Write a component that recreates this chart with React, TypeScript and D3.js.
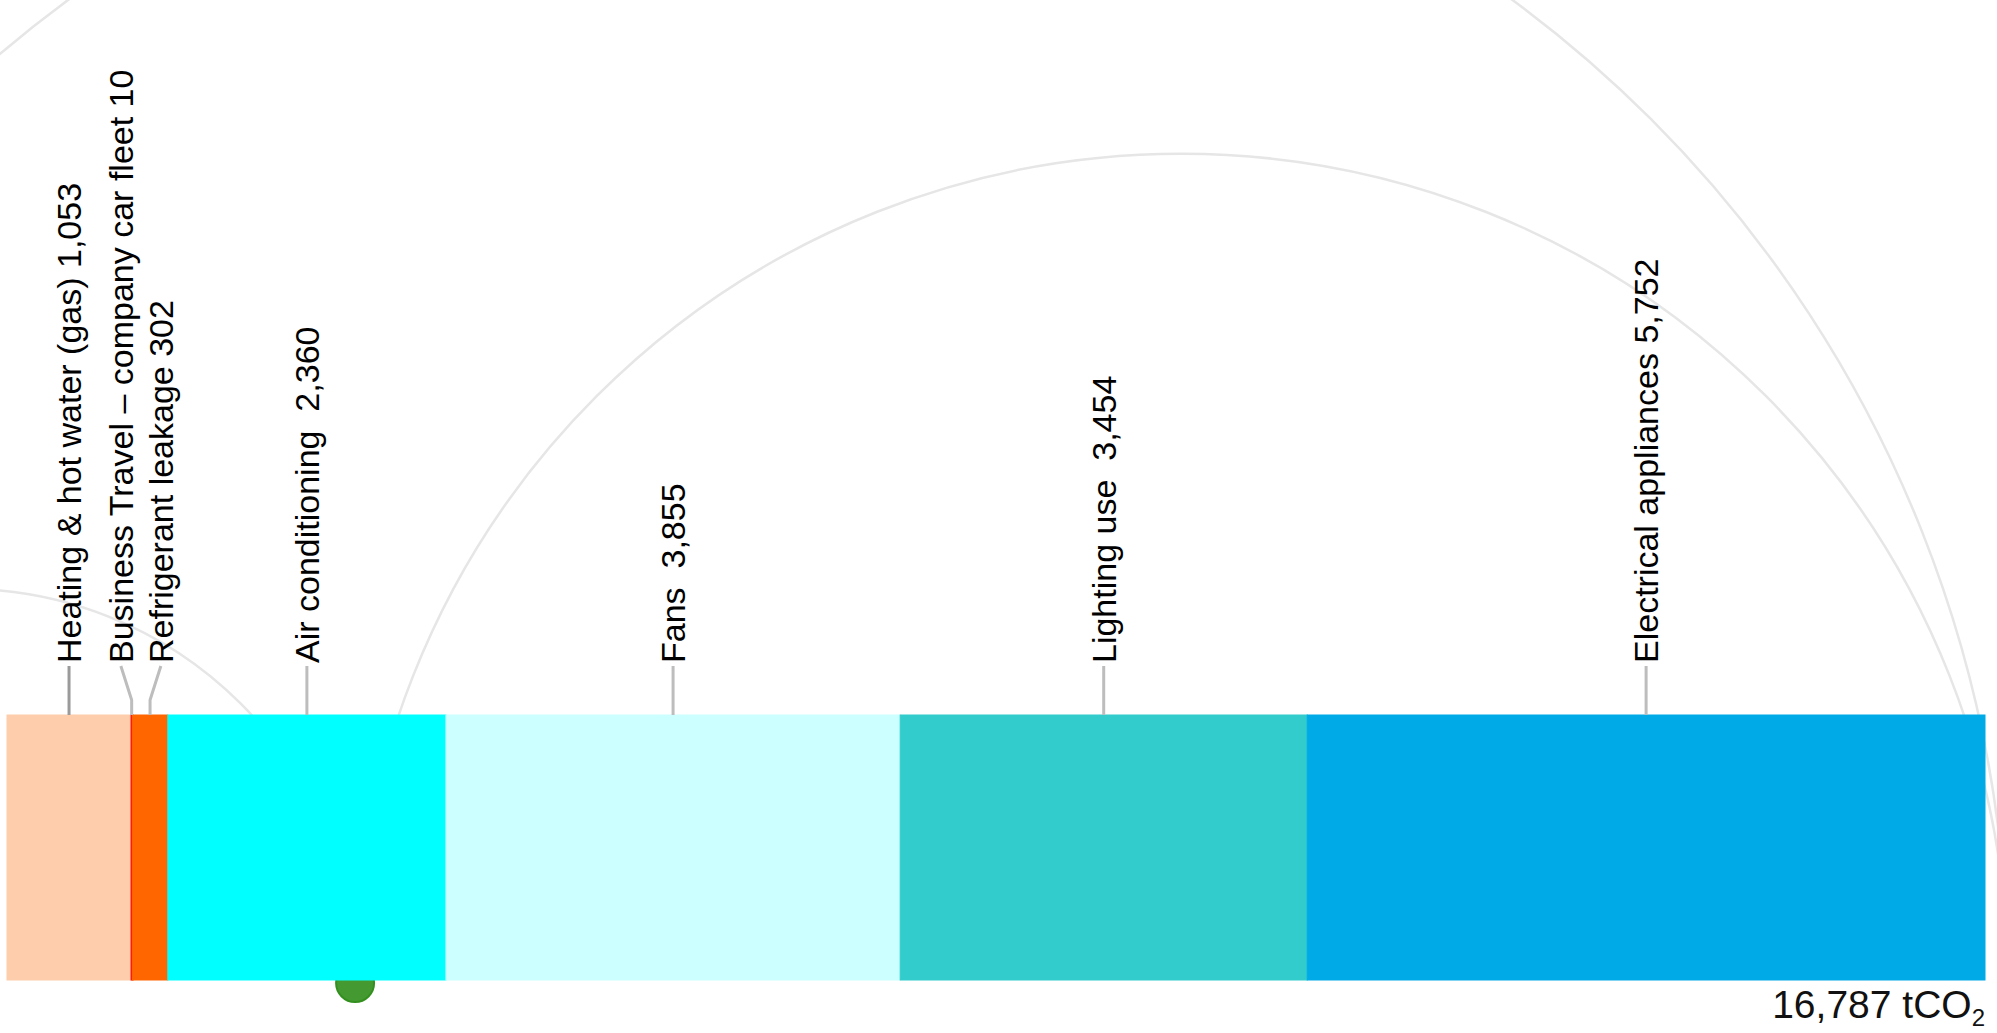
import React from "react";
import * as d3 from "d3";

// ---- data ----
const categories = [
  "Heating & hot water (gas)",
  "Business Travel – company car fleet",
  "Refrigerant leakage",
  "Air conditioning ",
  "Fans ",
  "Lighting use ",
  "Electrical appliances",
];
const values = [1053, 10, 302, 2360, 3855, 3454, 5752];
const colors = ["#fdcdac", "#ff0000", "#ff6600", "#00ffff", "#ccffff", "#33cccc", "#00aae7"];
const totalValue = 16787;
const totalUnit = "tCO";
const totalSub = "2";
// arc-diagram nodes, in the same units as the bar scale
const arcNodes = [-3684, 2954, 16978];
const arcLinks: [number, number][] = [
  [0, 1],
  [1, 2],
  [0, 2],
];
const highlightNode = 1;

const W = 1997;
const H = 1033;
const barLeft = 7;
const barRight = 1985;
const barTop = 715;
const barBottom = 980;
const labelBase = 663;
const fmt = d3.format(",");

export default function App() {
  const total = d3.sum(values);
  const x = d3.scaleLinear().domain([0, total]).range([barLeft, barRight]);
  const starts = d3.cumsum([0, ...values.slice(0, -1)]);
  const segs = values.map((v, i) => {
    const x0 = x(starts[i]);
    const x1 = x(starts[i] + v);
    return { x0, x1, c: (x0 + x1) / 2, v, i };
  });

  // simple label relaxation
  const pos = segs.map((s) => s.c);
  const minGap = 40;
  for (let it = 0; it < 60; it++) {
    for (let i = 0; i < pos.length - 1; i++) {
      const gap = pos[i + 1] - pos[i];
      if (gap < minGap) {
        const sh = (minGap - gap) / 2;
        pos[i] -= sh;
        pos[i + 1] += sh;
      }
    }
  }

  const arcs = arcLinks.map(([a, b]) => {
    const xa = x(arcNodes[a]);
    const xb = x(arcNodes[b]);
    const cx = (xa + xb) / 2;
    const r = Math.abs(xb - xa) / 2;
    const p = d3.path();
    p.arc(cx, barBottom, r, Math.PI, 2 * Math.PI);
    return p.toString();
  });

  return (
    <svg
      width={W}
      height={H}
      style={{ position: "absolute", left: 0, top: 0, background: "#fff" }}
      fontFamily="'Liberation Sans', Arial, sans-serif"
    >
      <rect x={0} y={0} width={W} height={H} fill="#fff" />
      {arcs.map((d, i) => (
        <path key={i} d={d} fill="none" stroke="#e6e6e6" strokeWidth={2.5} />
      ))}
      <circle
        cx={x(arcNodes[highlightNode])}
        cy={barBottom + 3}
        r={19}
        fill="#449a30"
        stroke="#33901f"
        strokeWidth={2}
      />
      {segs.map((s) => {
        const w = Math.max(s.x1 - s.x0, 2);
        return (
          <rect
            key={s.i}
            x={s.x0}
            y={barTop}
            width={w}
            height={barBottom - barTop}
            fill={colors[s.i]}
            stroke={colors[s.i]}
            strokeWidth={1}
          />
        );
      })}
      {segs.map((s) => {
        const lx = pos[s.i];
        const d =
          Math.abs(lx - s.c) < 0.5
            ? `M${lx},${labelBase + 3}L${lx},${barTop}`
            : `M${lx},${labelBase + 3}L${s.c},${barTop - 15}L${s.c},${barTop}`;
        return (
          <path
            key={"l" + s.i}
            d={d}
            fill="none"
            stroke={s.i === 0 ? "#9a9a9a" : "#bdbdbd"}
            strokeWidth={3}
          />
        );
      })}
      {segs.map((s) => (
        <text
          key={"t" + s.i}
          transform={`translate(${pos[s.i]},${labelBase}) rotate(-90)`}
          dy="0.35em"
          fontSize={34}
          fill="#000"
          style={{ whiteSpace: "pre" }}
        >
          {`${categories[s.i]} ${fmt(s.v)}`}
        </text>
      ))}
      <text x={barRight} y={1018} textAnchor="end" fontSize={39} fill="#111">
        {`${fmt(totalValue)} ${totalUnit}`}
        <tspan fontSize={24} dy={8}>
          {totalSub}
        </tspan>
      </text>
    </svg>
  );
}
